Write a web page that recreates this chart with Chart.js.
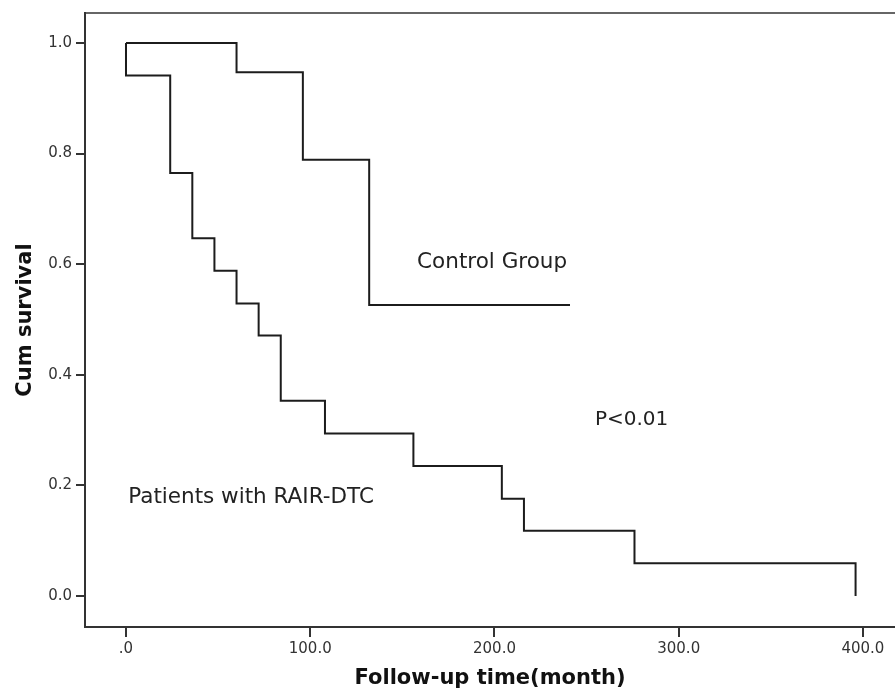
<!DOCTYPE html>
<html lang="en">
<head>
<meta charset="utf-8">
<title>Cum survival</title>
<script src="https://cdn.jsdelivr.net/npm/chart.js@4/dist/chart.umd.min.js"></script>
<style>
  html, body { margin: 0; padding: 0; background: #fff; }
  #box { width: 895px; height: 691px; position: relative; }
</style>
</head>
<body>
<div id="box"><canvas id="kmChart"></canvas></div>
<script>
// =========================
// DADOS
// =========================
const controlTimes = [0, 60, 96, 132, 241];
const controlSurvival = [1.0, 0.947, 0.789, 0.526, 0.526];

const rairTimes = [0, 0, 24, 36, 48, 60, 72, 84, 108, 156, 204, 216, 276, 396];
const rairSurvival = [1.0, 0.941, 0.765, 0.647, 0.588, 0.529, 0.471, 0.353, 0.294, 0.235, 0.176, 0.118, 0.059, 0.0];

const xTickValues = [0, 100, 200, 300, 400];
const xTickLabels = ['.0', '100.0', '200.0', '300.0', '400.0'];
const yTickValues = [0, 0.2, 0.4, 0.6, 0.8, 1.0];
const yTickLabels = ['0.0', '0.2', '0.4', '0.6', '0.8', '1.0'];

const groupNames = ['Control Group', 'Patients with RAIR-DTC'];
const pValueText = 'P<0.01';

document.addEventListener("DOMContentLoaded", () => {

    const family = '"DejaVu Sans", sans-serif';
    const ink = '#1c1c1c';

    const toPoints = (xs, ys) => xs.map((t, i) => ({ x: t, y: ys[i] }));

    // textos dentro do gráfico, posicionados em coordenadas de dados
    const notes = [
        { text: groupNames[0], x: 158, y: 0.593, size: 21.5 },
        { text: groupNames[1], x: 1.2, y: 0.169, size: 21.5 },
        { text: pValueText, x: 254.5, y: 0.309, size: 20 }
    ];

    const notesPlugin = {
        id: 'notesPlugin',
        afterDatasetsDraw(chart) {
            const { ctx, scales } = chart;
            ctx.save();
            ctx.fillStyle = '#222';
            ctx.textAlign = 'left';
            ctx.textBaseline = 'alphabetic';
            notes.forEach(n => {
                ctx.font = n.size + 'px ' + family;
                ctx.fillText(n.text, scales.x.getPixelForValue(n.x), scales.y.getPixelForValue(n.y));
            });
            ctx.restore();
        }
    };

    const ctx = document.getElementById('kmChart');
    new Chart(ctx.getContext('2d'), {
        type: 'line',
        data: {
            datasets: [
                {
                    label: groupNames[0],
                    data: toPoints(controlTimes, controlSurvival),
                    stepped: 'before',
                    borderColor: ink,
                    borderWidth: 2,
                    pointRadius: 0,
                    fill: false
                },
                {
                    label: groupNames[1],
                    data: toPoints(rairTimes, rairSurvival),
                    stepped: 'before',
                    borderColor: ink,
                    borderWidth: 2,
                    pointRadius: 0,
                    fill: false
                }
            ]
        },
        options: {
            responsive: true,
            maintainAspectRatio: false,
            animation: false,
            layout: { padding: 0 },
            plugins: { legend: { display: false }, tooltip: { enabled: false } },
            scales: {
                x: {
                    type: 'linear',
                    position: 'bottom',
                    min: -22.25,
                    max: 417.4,
                    afterBuildTicks: s => { s.ticks = xTickValues.map(v => ({ value: v })); },
                    afterFit: s => { s.height = 64; },
                    ticks: {
                        callback: (v, i) => xTickLabels[i],
                        font: { family, size: 15 },
                        color: '#333',
                        padding: 3,
                        maxRotation: 0,
                        autoSkip: false
                    },
                    grid: { drawOnChartArea: false, drawTicks: true, tickLength: 10, color: '#333', lineWidth: 2 },
                    border: { display: true, color: '#333', width: 2 },
                    title: {
                        display: true,
                        text: 'Follow-up time(month)',
                        font: { family, size: 21, weight: 'bold' },
                        color: '#111',
                        padding: { top: 0, bottom: 0 }
                    }
                },
                xTop: {
                    type: 'linear',
                    axis: 'x',
                    position: 'top',
                    afterFit: s => { s.height = 13; },
                    ticks: { display: false },
                    grid: { display: false },
                    border: { display: true, color: '#666', width: 2 }
                },
                y: {
                    type: 'linear',
                    min: -0.0561,
                    max: 1.0542,
                    afterBuildTicks: s => { s.ticks = yTickValues.map(v => ({ value: v })); },
                    afterFit: s => { s.width = 85; },
                    ticks: {
                        callback: (v, i) => yTickLabels[i],
                        font: { family, size: 15 },
                        color: '#333',
                        padding: 4,
                        autoSkip: false
                    },
                    grid: { drawOnChartArea: false, drawTicks: true, tickLength: 9, color: '#333', lineWidth: 2 },
                    border: { display: true, color: '#333', width: 2 },
                    title: {
                        display: true,
                        text: 'Cum survival',
                        font: { family, size: 21, weight: 'bold' },
                        color: '#111',
                        padding: { top: 13, bottom: 0 }
                    }
                }
            }
        },
        plugins: [notesPlugin]
    });
});
</script>
</body>
</html>
